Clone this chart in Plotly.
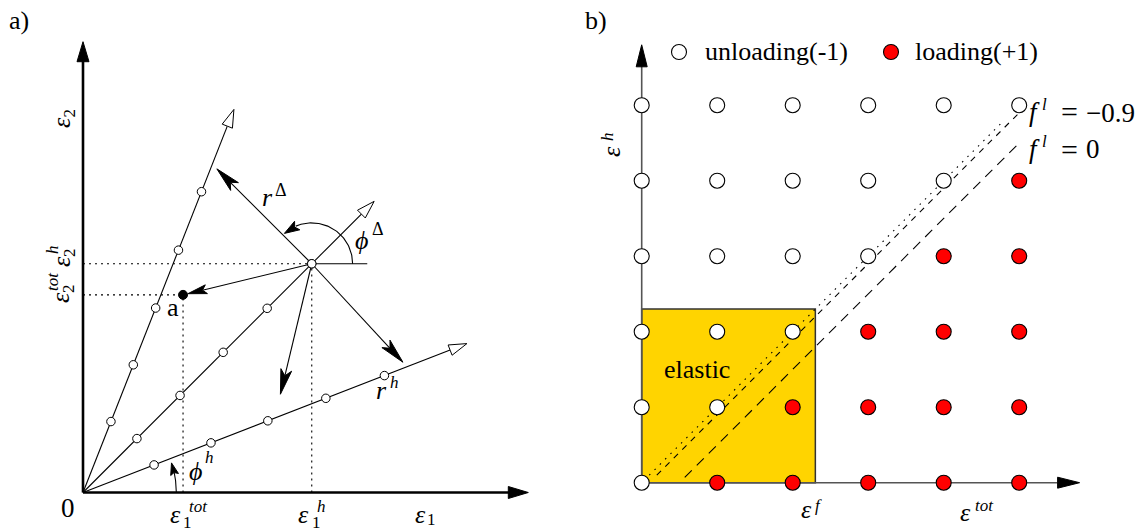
import numpy as np
import plotly.graph_objects as go

# ---------------- data: panel a (strain plane) ----------------
ray_angles_deg = [68.5, 45.0, 21.2]          # directions of the three load paths
ray_length = 6.75                             # length of each load path
node_radii = [1.25, 2.25, 3.25, 4.27, 5.3]    # nodes along every path
eps_h = [3.75, 3.75]                          # (eps1^h, eps2^h) history point
eps_tot = [1.64, 3.24]                        # (eps1^tot, eps2^tot) point a
trial_angles_deg = [135.0, 256.5, 312.8]      # trial directions r^Delta
trial_length = 2.2
ref_line_length = 0.91
phi_delta_arc = [0.0, 132.0]
phi_delta_radius = 0.67
phi_h_arc = [0.0, 18.5]
phi_h_radius = 1.53
axis_a_length = [7.3, 7.39]

# ---------------- data: panel b (loading / unloading map) ----------------
grid_x = [0, 1, 2, 3, 4, 5]
grid_y = [0, 1, 2, 3, 4, 5]
# state[j][i] : row j (bottom -> top), column i ; -1 unloading, +1 loading
state = [
    [-1, 1, 1, 1, 1, 1],
    [-1, -1, 1, 1, 1, 1],
    [-1, -1, -1, 1, 1, 1],
    [-1, -1, -1, -1, 1, 1],
    [-1, -1, -1, -1, -1, 1],
    [-1, -1, -1, -1, -1, -1],
]
elastic_limit = 2.3
fl_offsets = [0.0, -0.1, -0.5]
fl_x_start = [0.1, 0.2, 0.57]
fl_x_end = [4.78, 4.98, 5.0]
fl_values = ["−0.9", "0"]
axis_b_length = 5.8
legend_labels = ["unloading(-1)", "loading(+1)"]

# ---------------- layout frame ----------------
W, H = 1147, 531
A_O, A_U = (83.0, 492.5), 61.0
B_O, B_U = (641.7, 482.7), 75.5
FONT = "Liberation Serif"

fig = go.Figure()


def rng(o, u):
    return [-o[0] / u, (W - o[0]) / u], [-(H - o[1]) / u, o[1] / u]


AX_A = ("x", "y")
AX_B = ("x2", "y2")


def add_line(ax, xs, ys, color="black", width=1.2, dash=None):
    fig.add_trace(go.Scatter(x=list(xs), y=list(ys), mode="lines",
                             line=dict(color=color, width=width, dash=dash),
                             xaxis=ax[0], yaxis=ax[1], hoverinfo="skip",
                             showlegend=False))


def add_head(ax, unit, tip, d, L, Wd, notch=0.0, fill="black", lw=1.0):
    d = np.asarray(d, float)
    d = d / np.linalg.norm(d)
    n = np.array([-d[1], d[0]])
    t = np.asarray(tip, float)
    Lu, Wu, Nu = L / unit, Wd / unit, notch / unit
    pts = [t, t - Lu * d + Wu * n, t - (Lu - Nu) * d, t - Lu * d - Wu * n, t]
    fig.add_trace(go.Scatter(x=[p[0] for p in pts], y=[p[1] for p in pts],
                             mode="lines", fill="toself", fillcolor=fill,
                             line=dict(color="black", width=lw),
                             xaxis=ax[0], yaxis=ax[1], hoverinfo="skip",
                             showlegend=False))
    return t - (Lu - Nu) * d


def unit_vec(deg):
    a = np.deg2rad(deg)
    return np.array([np.cos(a), np.sin(a)])


# ================= panel a =================
hub = np.array(eps_h)
pa = np.array(eps_tot)

# dotted projection lines
dot = "2px,4px"
add_line(AX_A, [0, hub[0]], [hub[1], hub[1]], width=1.1, dash=dot)
add_line(AX_A, [hub[0], hub[0]], [0, hub[1]], width=1.1, dash=dot)
add_line(AX_A, [0, pa[0]], [pa[1], pa[1]], width=1.1, dash=dot)
add_line(AX_A, [pa[0], pa[0]], [0, pa[1]], width=1.1, dash=dot)

# load paths with open arrow heads
for ang in ray_angles_deg:
    d = unit_vec(ang)
    tip = ray_length * d
    base = tip - (18 / A_U) * d
    add_line(AX_A, [0, base[0]], [0, base[1]], width=1.1)
    add_head(AX_A, A_U, tip, d, 18, 5.5, 0, fill="white", lw=1.0)

# reference horizontal at hub
add_line(AX_A, [hub[0], hub[0] + ref_line_length], [hub[1], hub[1]], width=1.1)

# trial arrows
for ang in trial_angles_deg:
    d = unit_vec(ang)
    tip = hub + trial_length * d
    end = tip - ((25 - 6) / A_U) * d
    add_line(AX_A, [hub[0], end[0]], [hub[1], end[1]], width=1.1)
    add_head(AX_A, A_U, tip, d, 25, 5.5, 6)

# arrow to point a
da = (pa - hub) / np.linalg.norm(pa - hub)
tip_a = pa - (5 / A_U) * da
end_a = tip_a - ((19 - 4) / A_U) * da
add_line(AX_A, [hub[0], end_a[0]], [hub[1], end_a[1]], width=1.1)
add_head(AX_A, A_U, tip_a, da, 19, 4.5, 4)

# arc phi^Delta
head_deg = np.rad2deg(15 / (phi_delta_radius * A_U))
th = np.linspace(phi_delta_arc[0], phi_delta_arc[1] - head_deg + 2, 60)
add_line(AX_A, hub[0] + phi_delta_radius * np.cos(np.deg2rad(th)),
         hub[1] + phi_delta_radius * np.sin(np.deg2rad(th)), width=1.1)
tip = hub + phi_delta_radius * unit_vec(phi_delta_arc[1])
back = hub + phi_delta_radius * unit_vec(phi_delta_arc[1] - head_deg)
add_head(AX_A, A_U, tip, tip - back, 15, 5, 3)

# arc phi^h
head_deg = np.rad2deg(12 / (phi_h_radius * A_U))
th = np.linspace(phi_h_arc[0], phi_h_arc[1] - head_deg + 1, 30)
add_line(AX_A, phi_h_radius * np.cos(np.deg2rad(th)),
         phi_h_radius * np.sin(np.deg2rad(th)), width=1.1)
tip = phi_h_radius * unit_vec(phi_h_arc[1])
back = phi_h_radius * unit_vec(phi_h_arc[1] - head_deg)
add_head(AX_A, A_U, tip, tip - back, 12, 4, 2)

# axes of panel a
add_line(AX_A, [0, axis_a_length[0] - 18 / A_U], [0, 0], width=2.6)
add_head(AX_A, A_U, [axis_a_length[0], 0], [1, 0], 20, 6, 0)
add_line(AX_A, [0, 0], [0, axis_a_length[1] - 18 / A_U], width=2.6)
add_head(AX_A, A_U, [0, axis_a_length[1]], [0, 1], 20, 6, 0)

# nodes
nx, ny = [], []
for ang in ray_angles_deg:
    d = unit_vec(ang)
    for r in node_radii:
        nx.append(r * d[0])
        ny.append(r * d[1])
mk_node = dict(size=8.5, color="white", line=dict(color="black", width=1))
fig.add_trace(go.Scatter(x=nx, y=ny, mode="markers", marker=mk_node,
                         xaxis="x", yaxis="y", hoverinfo="skip", showlegend=False))
fig.add_trace(go.Scatter(x=[hub[0]], y=[hub[1]], mode="markers", marker=mk_node,
                         xaxis="x", yaxis="y", hoverinfo="skip", showlegend=False))
fig.add_trace(go.Scatter(x=[pa[0]], y=[pa[1]], mode="markers",
                         marker=dict(size=9, color="black", line=dict(color="black", width=1)),
                         xaxis="x", yaxis="y", hoverinfo="skip", showlegend=False))

# ================= panel b =================
fig.add_shape(type="rect", xref="x2", yref="y2", x0=0, y0=0,
              x1=elastic_limit, y1=elastic_limit, fillcolor="#FFD400",
              line=dict(color="#333333", width=1.5), layer="below")

add_line(AX_B, [0, axis_b_length - 20 / B_U], [0, 0], color="#555555", width=1.6)
add_head(AX_B, B_U, [axis_b_length, 0], [1, 0], 22, 5.5, 0)
add_line(AX_B, [0, 0], [0, axis_b_length - 20 / B_U], color="#555555", width=1.6)
add_head(AX_B, B_U, [0, axis_b_length], [0, 1], 22, 5.5, 0)

fl_dash = ["1.5px,6px", "6px,6px", "10px,7px"]
for off, xs, xe, ds in zip(fl_offsets, fl_x_start, fl_x_end, fl_dash):
    add_line(AX_B, [xs, xe], [xs + off, xe + off], width=1.1, dash=ds)

ux, uy, lx, ly = [], [], [], []
for j, row in enumerate(state):
    for i, s in enumerate(row):
        if s < 0:
            ux.append(grid_x[i]); uy.append(grid_y[j])
        else:
            lx.append(grid_x[i]); ly.append(grid_y[j])
mk_u = dict(size=15, color="white", line=dict(color="black", width=1.1))
mk_l = dict(size=15, color="#FF0000", line=dict(color="black", width=1.1))
fig.add_trace(go.Scatter(x=ux, y=uy, mode="markers", marker=mk_u, name=legend_labels[0],
                         xaxis="x2", yaxis="y2", hoverinfo="skip", showlegend=False))
fig.add_trace(go.Scatter(x=lx, y=ly, mode="markers", marker=mk_l, name=legend_labels[1],
                         xaxis="x2", yaxis="y2", hoverinfo="skip", showlegend=False))

# legend (drawn in place)
leg_y = (B_O[1] - 52) / B_U
leg_x = [(679 - B_O[0]) / B_U, (891 - B_O[0]) / B_U]
fig.add_trace(go.Scatter(x=[leg_x[0]], y=[leg_y], mode="markers", marker=mk_u,
                         xaxis="x2", yaxis="y2", hoverinfo="skip", showlegend=False))
fig.add_trace(go.Scatter(x=[leg_x[1]], y=[leg_y], mode="markers", marker=mk_l,
                         xaxis="x2", yaxis="y2", hoverinfo="skip", showlegend=False))


# ================= text =================
def txt(px, py, s, size=25, angle=0, xanchor="center"):
    fig.add_annotation(x=px / W, y=1 - py / H, xref="paper", yref="paper", text=s,
                       showarrow=False, textangle=angle, xanchor=xanchor, yanchor="middle",
                       font=dict(family=FONT, size=size, color="black"))


def apx(v):
    return A_O[0] + v * A_U


S, s = 26, 17
EPS = "<i>ε</i>"

txt(19, 21, "a)", S)
txt(596, 21, "b)", S)
txt(68, 508, "0", 27)

# eps1^tot, eps1^h, eps1
for X, sup in [(apx(eps_tot[0]), "tot"), (apx(eps_h[0]), "h")]:
    txt(X - 8, 514, EPS, S)
    txt(X - 2, 522, "1", s, xanchor="left")
    txt(X + 3.5, 506.5, "<i>" + sup + "</i>", s, xanchor="left")
txt(420, 514.5, EPS, S)
txt(425, 519, "1", s, xanchor="left")

# rotated eps2 labels
txt(62, 123, EPS, S, angle=-90)
txt(68.5, 113, "2", s, angle=-90)
txt(61, 262, EPS, S, angle=-90)
txt(69, 253, "2", s, angle=-90)
txt(52, 250, "<i>h</i>", s, angle=-90)
txt(60, 297, EPS, S, angle=-90)
txt(68, 289, "2", s, angle=-90)
txt(52, 282, "<i>tot</i>", s, angle=-90)

txt(172.5, 307, "a", S)
txt(267.5, 197, "<i>r</i>", S)
txt(281, 190, "Δ", 18)
txt(361.5, 240, "<i>ϕ</i>", S)
txt(377.5, 229, "Δ", 18)
txt(381, 390, "<i>r</i>", S)
txt(394, 382, "<i>h</i>", s)
txt(195.5, 471, "<i>ϕ</i>", S)
txt(209, 457.5, "<i>h</i>", s)

# panel b text
txt(703, 51, legend_labels[0], S, xanchor="left")
txt(913, 51, legend_labels[1], S, xanchor="left")
txt(697, 369, "elastic", S)
txt(806.5, 509, EPS, S)
txt(818, 505, "<i>f</i>", s)
txt(965, 512, EPS, S)
txt(973, 505, "<i>tot</i>", s, xanchor="left")
txt(611, 152, EPS, S, angle=-90)
txt(607, 137, "<i>h</i>", s, angle=-90)

for dy, val in zip([0, 37], fl_values):
    txt(1034, 112 + dy, "<i>f</i>", 27)
    txt(1044, 104 + dy, "<i>l</i>", s)
    txt(1069, 112 + dy, "=", 30)
    txt(1084, 112.5 + dy, val, 27, xanchor="left")

xa, ya = rng(A_O, A_U)
xb, yb = rng(B_O, B_U)
fig.update_layout(
    width=W, height=H, margin=dict(l=0, r=0, t=0, b=0),
    paper_bgcolor="white", plot_bgcolor="white", showlegend=False,
    xaxis=dict(range=xa, visible=False, fixedrange=True),
    yaxis=dict(range=ya, visible=False, fixedrange=True),
    xaxis2=dict(range=xb, visible=False, overlaying="x", fixedrange=True),
    yaxis2=dict(range=yb, visible=False, overlaying="y", fixedrange=True),
)
fig.write_html("out.html", config={"displayModeBar": False},
               post_script="document.body.style.margin='0px';document.body.style.overflow='hidden';")
